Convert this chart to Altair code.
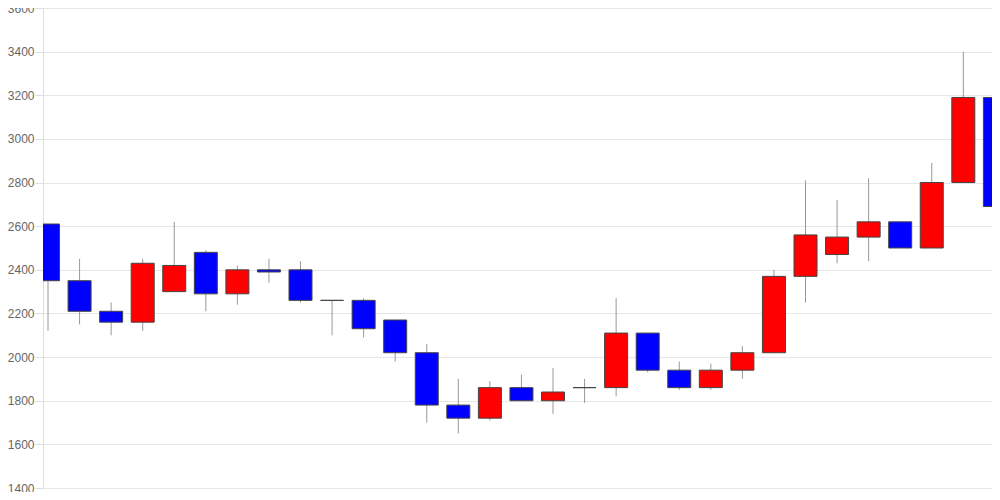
import altair as alt
import pandas as pd

idx = list(range(31))
opens = [2610, 2350, 2210, 2160, 2300, 2480, 2290, 2400, 2400, 2260, 2260, 2170, 2020, 1780, 1720, 1860, 1800, 1860, 1860, 2110, 1940, 1860, 1940, 2020, 2370, 2470, 2550, 2620, 2500, 2800, 3190]
closes = [2350, 2210, 2160, 2430, 2420, 2290, 2400, 2390, 2260, 2260, 2130, 2020, 1780, 1720, 1860, 1800, 1840, 1860, 2110, 1940, 1860, 1940, 2020, 2370, 2560, 2550, 2620, 2500, 2800, 3190, 2690]
highs = [2610, 2450, 2250, 2450, 2620, 2490, 2420, 2450, 2440, 2260, 2270, 2170, 2060, 1900, 1890, 1920, 1950, 1900, 2270, 2110, 1980, 1970, 2050, 2400, 2810, 2720, 2820, 2620, 2890, 3400, 3190]
lows = [2120, 2150, 2100, 2120, 2300, 2210, 2240, 2340, 2250, 2100, 2090, 1980, 1700, 1650, 1710, 1800, 1740, 1790, 1820, 1930, 1850, 1850, 1900, 2020, 2250, 2430, 2440, 2500, 2500, 2800, 2600]
y_ticks = [1400, 1600, 1800, 2000, 2200, 2400, 2600, 2800, 3000, 3200, 3400, 3600]

df = pd.DataFrame({"i": idx, "open": opens, "close": closes, "high": highs, "low": lows})
df["dir"] = ["up" if c > o else "down" for o, c in zip(opens, closes)]

xs = alt.X("i:Q", scale=alt.Scale(domain=[0, 29.75], nice=False, zero=False), axis=None)
ys = alt.Scale(domain=[1400, 3600], nice=False, zero=False)

base = alt.Chart(df)

wick = base.mark_rule(color="#999999", strokeWidth=1, clip=True).encode(
    x=xs,
    y=alt.Y("low:Q", scale=ys, axis=alt.Axis(
        values=y_ticks, format="d",
        title=None, grid=True, gridColor="#e6e6e6", domainColor="#dddddd",
        tickColor="#dddddd", tickSize=8, labelPadding=1, labelColor="#666666",
        labelFont="Liberation Sans", labelFontSize=12)),
    y2="high:Q",
)

body = base.mark_bar(size=23, stroke="#444444", strokeWidth=1, clip=True).encode(
    x=xs,
    y=alt.Y("open:Q", scale=ys),
    y2="close:Q",
    color=alt.Color("dir:N", scale=alt.Scale(domain=["up", "down"], range=["#ff0000", "#0000ff"]), legend=None),
)

chart = alt.layer(wick, body).properties(
    width=949, height=480,
    autosize=alt.AutoSizeParams(type="none"),
    padding={"left": 35, "top": 0, "right": 0, "bottom": 4},
).configure_view(stroke=None)

chart.save("out.html", embed_options={"renderer": "svg", "actions": False})
